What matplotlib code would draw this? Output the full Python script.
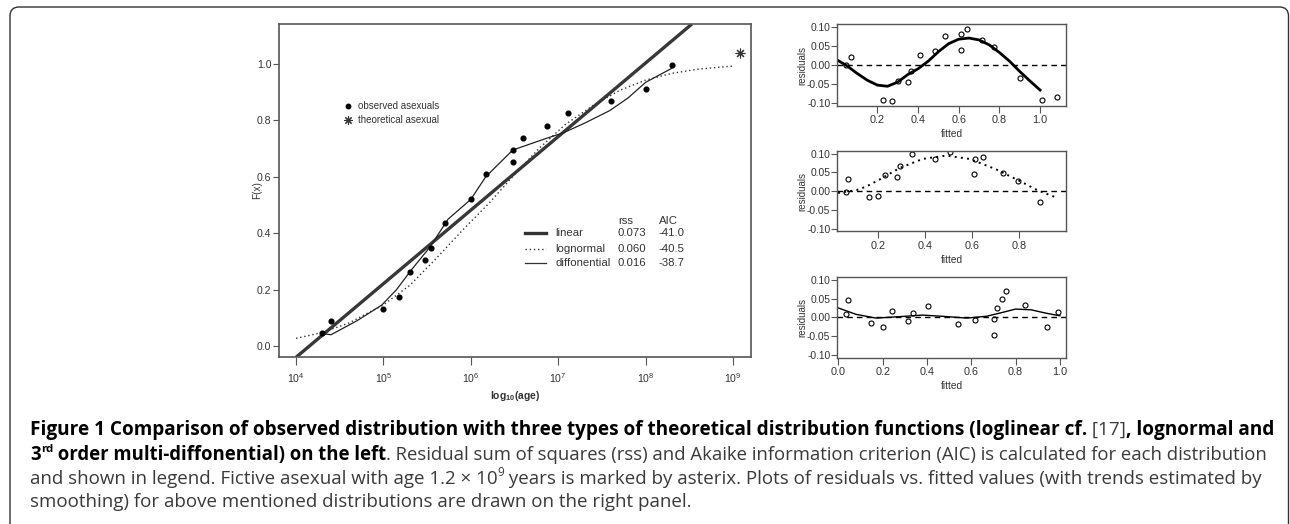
import matplotlib
matplotlib.use("Agg")
import matplotlib.pyplot as plt
import numpy as np
from matplotlib.patches import FancyBboxPatch
from matplotlib.transforms import IdentityTransform
from matplotlib.ticker import NullLocator, FixedLocator, FormatStrFormatter

plt.rcParams['font.family'] = ['Liberation Sans', 'DejaVu Sans']
plt.rcParams['mathtext.default'] = 'regular'

# observed asexuals (age in years, empirical F(x))
obs_age = [2e4, 2.5e4, 1e5, 1.5e5, 2e5, 3e5, 3.5e5, 5e5, 1e6, 1.5e6,
           3e6, 3e6, 4e6, 7.5e6, 1.3e7, 4e7, 1e8, 2e8]
obs_F = [0.045, 0.088, 0.132, 0.175, 0.261, 0.305, 0.349, 0.435, 0.52, 0.61,
         0.651, 0.696, 0.739, 0.781, 0.825, 0.869, 0.912, 0.997]
theo_age = [1.2e9]
theo_F = [1.04]

# fitted curves (log10 age)
lin_logage = [4.0, 8.53]
lin_F = [-0.04, 1.142]
lognorm_logage = [4.0, 4.301, 4.602, 5.0, 5.301, 5.602, 5.903, 6.204, 6.477,
                  6.778, 7.079, 7.398, 7.699, 8.0, 8.301, 8.602, 9.0]
lognorm_F = [0.027, 0.048, 0.081, 0.146, 0.215, 0.31, 0.41, 0.505, 0.60,
             0.70, 0.785, 0.853, 0.906, 0.943, 0.967, 0.982, 0.993]
diff_logage = [4.28, 4.40, 4.70, 4.98, 5.15, 5.32, 5.53, 5.74, 6.0, 6.17,
               6.48, 6.85, 7.05, 7.3, 7.59, 7.8, 8.0, 8.3]
diff_F = [0.045, 0.040, 0.09, 0.145, 0.20, 0.27, 0.35, 0.45, 0.52, 0.60,
          0.695, 0.735, 0.755, 0.79, 0.835, 0.88, 0.935, 0.985]

fit_names = ["linear", "lognormal", "diffonential"]
fit_rss = ["0.073", "0.060", "0.016"]
fit_aic = ["-41.0", "-40.5", "-38.7"]

# residuals vs fitted
r1_fit = [0.045, 0.071, 0.226, 0.272, 0.303, 0.349, 0.367, 0.41, 0.485, 0.531,
          0.61, 0.613, 0.642, 0.716, 0.775, 0.901, 1.008, 1.085]
r1_res = [0.001, 0.02, -0.093, -0.096, -0.042, -0.046, -0.015, 0.027, 0.036, 0.076,
          0.040, 0.081, 0.096, 0.066, 0.048, -0.034, -0.092, -0.085]
t1_x = [0.003, 0.05, 0.10, 0.15, 0.20, 0.25, 0.30, 0.35, 0.40, 0.45, 0.50,
        0.55, 0.60, 0.65, 0.70, 0.75, 0.80, 0.85, 0.90, 0.95, 1.00]
t1_y = [0.013, -0.002, -0.022, -0.04, -0.053, -0.056, -0.045, -0.025, -0.01, 0.01, 0.035,
        0.056, 0.068, 0.071, 0.066, 0.053, 0.033, 0.01, -0.017, -0.042, -0.066]

r2_fit = [0.063, 0.071, 0.162, 0.199, 0.230, 0.28, 0.294, 0.344, 0.444, 0.505,
          0.608, 0.614, 0.647, 0.734, 0.796, 0.89]
r2_res = [-0.003, 0.032, -0.017, -0.012, 0.044, 0.039, 0.066, 0.10, 0.086, 0.105,
          0.046, 0.086, 0.092, 0.048, 0.028, -0.028]
t2_x = [0.03, 0.11, 0.15, 0.21, 0.29, 0.39, 0.49, 0.59, 0.70, 0.80, 0.88, 0.95]
t2_y = [-0.005, 0.003, 0.012, 0.032, 0.061, 0.086, 0.095, 0.086, 0.059, 0.028, 0.002, -0.015]

r3_fit = [0.035, 0.042, 0.146, 0.200, 0.242, 0.314, 0.338, 0.405, 0.540, 0.618,
          0.702, 0.701, 0.714, 0.737, 0.756, 0.842, 0.94, 0.99]
r3_res = [0.010, 0.045, -0.016, -0.026, 0.018, -0.010, 0.012, 0.031, -0.017, -0.008,
          -0.004, -0.046, 0.026, 0.048, 0.071, 0.032, -0.025, 0.013]
t3_x = [0.0, 0.08, 0.17, 0.28, 0.38, 0.49, 0.58, 0.67, 0.74, 0.80, 0.87, 0.93, 1.0]
t3_y = [0.025, 0.008, -0.002, 0.002, 0.006, 0.002, -0.002, 0.003, 0.013, 0.022, 0.02, 0.012, 0.004]

W, H = 1290, 524
fig = plt.figure(figsize=(W / 100, H / 100), dpi=100)


def add_ax(l, t, r, b):
    return fig.add_axes([l / W, 1 - b / H, (r - l) / W, (b - t) / H])


spine_c = "#555555"
txt_c = "#333333"

# ---- main panel
ax = add_ax(279, 24, 751, 357)
ax.set_xscale("log")
ax.plot(10 ** np.array(lin_logage), lin_F, color="#383838", lw=2.4, solid_capstyle="butt")
ax.plot(10 ** np.array(lognorm_logage), lognorm_F, color="#333333", lw=1.0, ls=(0, (1, 2)))
ax.plot(10 ** np.array(diff_logage), diff_F, color="#222222", lw=0.9)
ax.plot(obs_age, obs_F, "o", color="black", ms=3.4)
ax.plot(theo_age, theo_F, marker=(8, 2, 0), color="#333333", ms=7, mew=0.8, ls="none")
ax.set_xlim(10 ** 3.805, 10 ** 9.206)
ax.set_ylim(-0.039, 1.142)
ax.xaxis.set_major_locator(FixedLocator([1e4, 1e5, 1e6, 1e7, 1e8, 1e9]))
ax.xaxis.set_minor_locator(NullLocator())
ax.set_yticks([0.0, 0.2, 0.4, 0.6, 0.8, 1.0])
ax.yaxis.set_major_formatter(FormatStrFormatter("%.1f"))
ax.tick_params(axis="y", length=4, width=0.8, color=spine_c, labelsize=7.6, pad=1.5, labelcolor=txt_c)
ax.tick_params(axis="x", length=6, width=0.8, color=spine_c, labelsize=7.6, pad=4, labelcolor=txt_c)
for s in ax.spines.values():
    s.set_color(spine_c)
    s.set_linewidth(1.2)
ax.set_ylabel("F(x)", fontsize=7.2, color=txt_c)
ax.yaxis.set_label_coords((262 - 279) / 472, 0.5)
ax.set_xlabel("log$_{10}$(age)", fontsize=7.5, color=txt_c, labelpad=3, fontweight="bold")

# upper-left legend
ax.plot([0.147], [0.754], "o", color="black", ms=3.2, transform=ax.transAxes)
ax.plot([0.147], [0.712], marker=(8, 2, 0), color="#333333", ms=6, mew=0.8, ls="none",
        transform=ax.transAxes)
ax.text(0.167, 0.754, "observed asexuals", transform=ax.transAxes, fontsize=7,
        va="center", color=txt_c)
ax.text(0.167, 0.712, "theoretical asexual", transform=ax.transAxes, fontsize=7,
        va="center", color=txt_c)

# lower-right legend with rss / AIC
ax.text(0.719, 0.408, "rss", transform=ax.transAxes, fontsize=8.2, va="center", color=txt_c)
ax.text(0.804, 0.408, "AIC", transform=ax.transAxes, fontsize=8.2, va="center", color=txt_c)
row_y = [0.371, 0.323, 0.281]
styles = [dict(lw=2.4, ls="-"), dict(lw=1.0, ls=(0, (1, 2))), dict(lw=0.9, ls="-")]
for yy, name, rss, aic, st in zip(row_y, fit_names, fit_rss, fit_aic, styles):
    ax.plot([0.521, 0.566], [yy, yy], color="#333333", transform=ax.transAxes, **st)
    ax.text(0.585, yy, name, transform=ax.transAxes, fontsize=8.2, va="center", color=txt_c)
    ax.text(0.718, yy, rss, transform=ax.transAxes, fontsize=8.2, va="center", color=txt_c)
    ax.text(0.804, yy, aic, transform=ax.transAxes, fontsize=8.2, va="center", color=txt_c)

# ---- residual panels
panels = [
    (24, 106, (0.003, 1.126), [0.2, 0.4, 0.6, 0.8, 1.0], r1_fit, r1_res, t1_x, t1_y,
     dict(lw=2.0, ls="-", color="black")),
    (150.7, 231.5, (0.027, 0.999), [0.2, 0.4, 0.6, 0.8], r2_fit, r2_res, t2_x, t2_y,
     dict(lw=1.4, ls=(0, (1, 2.2)), color="black")),
    (276.7, 358, (-0.0045, 1.026), [0.0, 0.2, 0.4, 0.6, 0.8, 1.0], r3_fit, r3_res, t3_x, t3_y,
     dict(lw=1.0, ls="-", color="black")),
]
for top, bot, xl, xt, fx, ry, tx, ty, st in panels:
    a = add_ax(837.3, top, 1065.7, bot)
    a.axhline(0, color="black", lw=1.0, ls=(0, (4, 3)))
    a.plot(tx, ty, **st)
    a.plot(fx, ry, "o", mfc="none", mec="black", ms=3.6, mew=0.8)
    a.set_xlim(*xl)
    a.set_ylim(-0.108, 0.108)
    a.set_xticks(xt)
    a.set_yticks([-0.1, -0.05, 0.0, 0.05, 0.1])
    a.xaxis.set_major_formatter(FormatStrFormatter("%.1f"))
    a.yaxis.set_major_formatter(FormatStrFormatter("%.2f"))
    a.tick_params(axis="y", length=4, width=0.8, color=spine_c, labelsize=7.4, pad=1, labelcolor=txt_c)
    a.tick_params(axis="x", length=5, width=0.8, color=spine_c, labelsize=7.8, pad=1.5, labelcolor=txt_c)
    for s in a.spines.values():
        s.set_color(spine_c)
        s.set_linewidth(1.0)
    a.set_xlabel("fitted", fontsize=7.3, color=txt_c, labelpad=3)
    a.set_ylabel("residuals", fontsize=7.0, color=txt_c, labelpad=0)

# ---- frame around the figure
frame = FancyBboxPatch((10, -30), 1278.5, 547, boxstyle="round,pad=0,rounding_size=9",
                       transform=IdentityTransform(), fill=False, ec="#333333", lw=1.0)
fig.patches.append(frame)

# ---- caption
cap_font = ["Open Sans", "DejaVu Sans"]
caption = [
    [("Figure 1 Comparison of observed distribution with three types of theoretical distribution functions (loglinear cf.", "bold", False),
     (" [17]", "normal", False), (", lognormal and", "bold", False)],
    [("3", "bold", False), ("rd", "bold", True), (" order multi-diffonential) on the left", "bold", False),
     (". Residual sum of squares (rss) and Akaike information criterion (AIC) is calculated for each distribution", "normal", False)],
    [("and shown in legend. Fictive asexual with age 1.2 \u00d7 10", "normal", False), ("9", "normal", True),
     (" years is marked by asterix. Plots of residuals vs. fitted values (with trends estimated by", "normal", False)],
    [("smoothing) for above mentioned distributions are drawn on the right panel.", "normal", False)],
]
line_y = [430, 455, 479, 502]
line_end = [1277, 1268, 1262, None]
x0 = 30
renderer = fig.canvas.get_renderer()


def advance(s, weight, size):
    t1 = fig.text(0, 0, "|" + s + "|", fontsize=size, fontweight=weight, family=cap_font)
    t2 = fig.text(0, 0, "||", fontsize=size, fontweight=weight, family=cap_font)
    w = t1.get_window_extent(renderer).width - t2.get_window_extent(renderer).width
    t1.remove()
    t2.remove()
    return w


size = 12
for parts, yy, xe in zip(caption, line_y, line_end):
    if xe is not None:
        w10 = sum(advance(s, wt, 10 * (0.62 if sup else 1)) for s, wt, sup in parts)
        size = 10 * (xe - x0) / w10
    x = x0
    for s, wt, sup in parts:
        fs = size * (0.62 if sup else 1)
        col = "black" if wt == "bold" else "#3a3a3a"
        dy = 6 if sup else 0
        fig.text(x, H - yy + dy, s, fontsize=fs, fontweight=wt, family=cap_font, color=col,
                 va="center", ha="left", transform=IdentityTransform())
        x += advance(s, wt, fs)

fig.savefig("out.png", dpi=100)
